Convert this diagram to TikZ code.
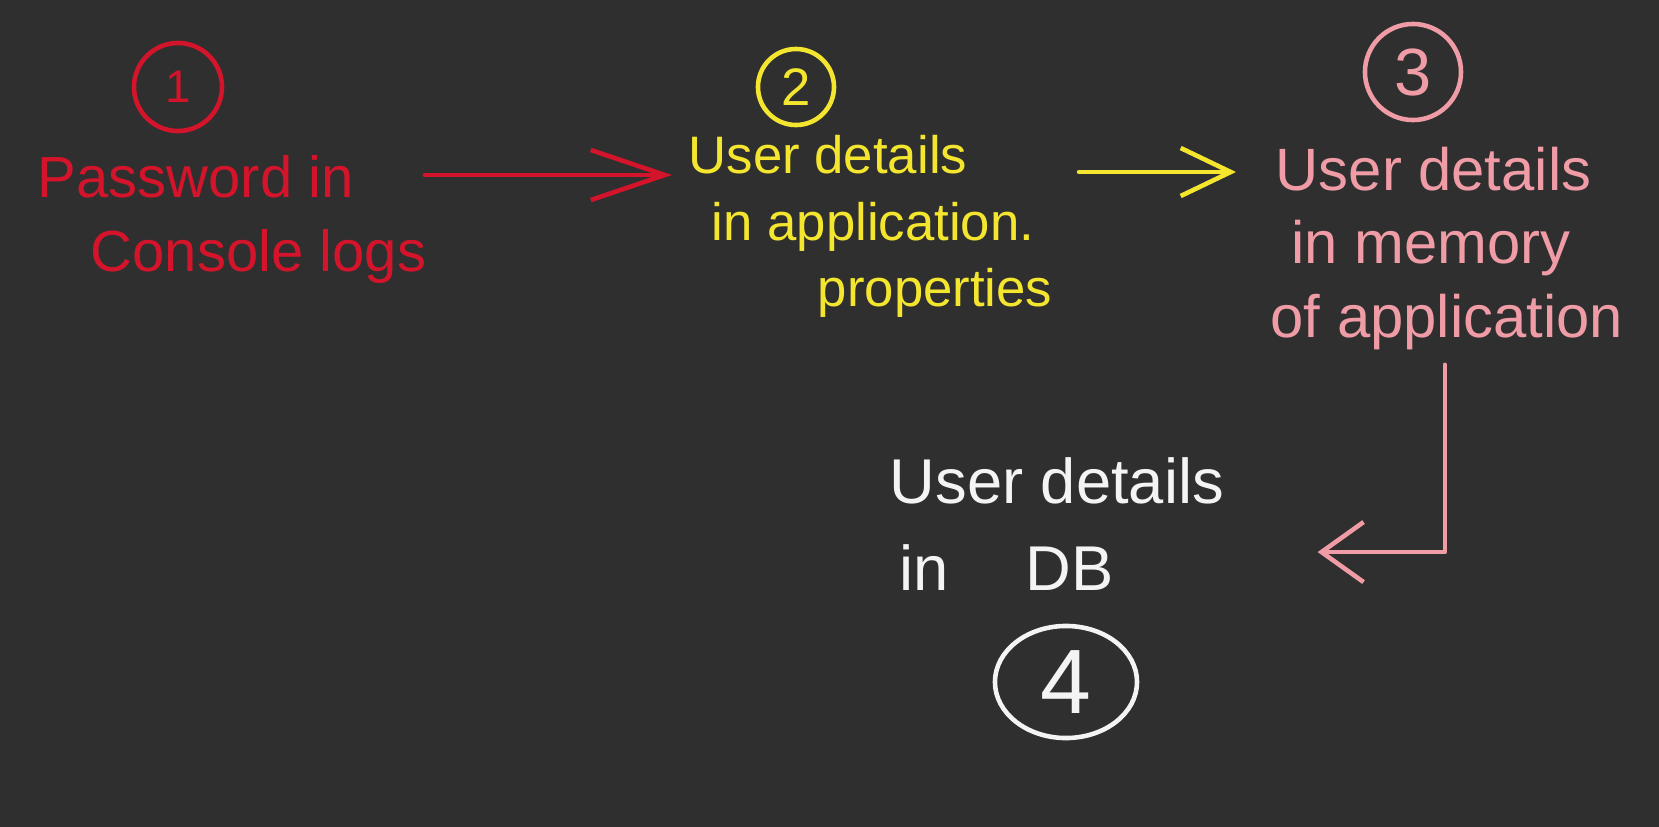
\documentclass[tikz,border=0pt]{standalone}
\usepackage{fontspec}
\setmainfont{Liberation Sans}
\usetikzlibrary{arrows.meta, shapes.geometric}
\definecolor{board}{HTML}{2F2F2F}
\definecolor{inkred}{HTML}{D3142B}
\definecolor{inkyellow}{HTML}{F4E62E}
\definecolor{inkpink}{HTML}{EF9CA6}
\definecolor{inkwhite}{HTML}{F4F4F4}

\begin{document}
\begin{tikzpicture}[
  x=0.01cm, y=-0.01cm,
  note/.style={anchor=north west, inner sep=0pt, align=left},
  num/.style={circle, draw, line width=1.3pt, inner sep=0pt},
  arrow/.style={line width=1.3pt, line cap=round, line join=round}
  ]
  \fill[board] (0,0) rectangle (1659,827);
  \useasboundingbox (0,0) rectangle (1659,827);

  % step numbers
  \node[num, inkred, minimum size=0.88cm, font=\fontsize{13}{13}\selectfont] (n1) at (178,87) {1};
  \node[num, inkyellow, minimum size=0.76cm, font=\fontsize{15}{15}\selectfont] (n2) at (796,87) {2};
  \node[num, inkpink, minimum size=0.96cm, font=\fontsize{19}{19}\selectfont] (n3) at (1413,72) {3};
  \node[num, ellipse, inkwhite, minimum width=1.42cm, minimum height=1.12cm, font=\fontsize{26}{26}\selectfont] (n4) at (1066,682) {4};

  % where the password sits
  \node[note, inkred, font=\fontsize{16.5}{21}\selectfont] (pw) at (37,155)
    {Password in\\\hspace{0.53cm}Console logs};
  \node[note, inkyellow, font=\fontsize{15}{18.8}\selectfont] (props) at (688,135)
    {User details\\\hspace{0.23cm}in application.\\\hspace{1.29cm}properties};
  \node[note, inkpink, font=\fontsize{17}{21}\selectfont] (mem) at (1270,146)
    {\hspace{0.05cm}User details\\\hspace{0.21cm}in memory\\of application};
  \node[note, inkwhite, font=\fontsize{18}{24.7}\selectfont] (db) at (889,457)
    {User details\\\hspace{0.1cm}in\hspace{0.77cm}DB};

  \draw[arrow, inkred, -{Straight Barb[length=7.4mm, width=5mm]}]
    ([shift={(-2,20)}]pw.north east) -- ([shift={(-16,40)}]props.north west);
  \draw[arrow, inkyellow, -{Straight Barb[length=5mm, width=4.8mm]}]
    ([shift={(26,37)}]props.north east) -- ([shift={(-34,26)}]mem.north west);
  \draw[arrow, inkpink, -{Straight Barb[length=4.2mm, width=6mm]}]
    ([shift={(-2,14)}]mem.south) |- ([shift={(93,28)}]db.east);
\end{tikzpicture}
\end{document}
